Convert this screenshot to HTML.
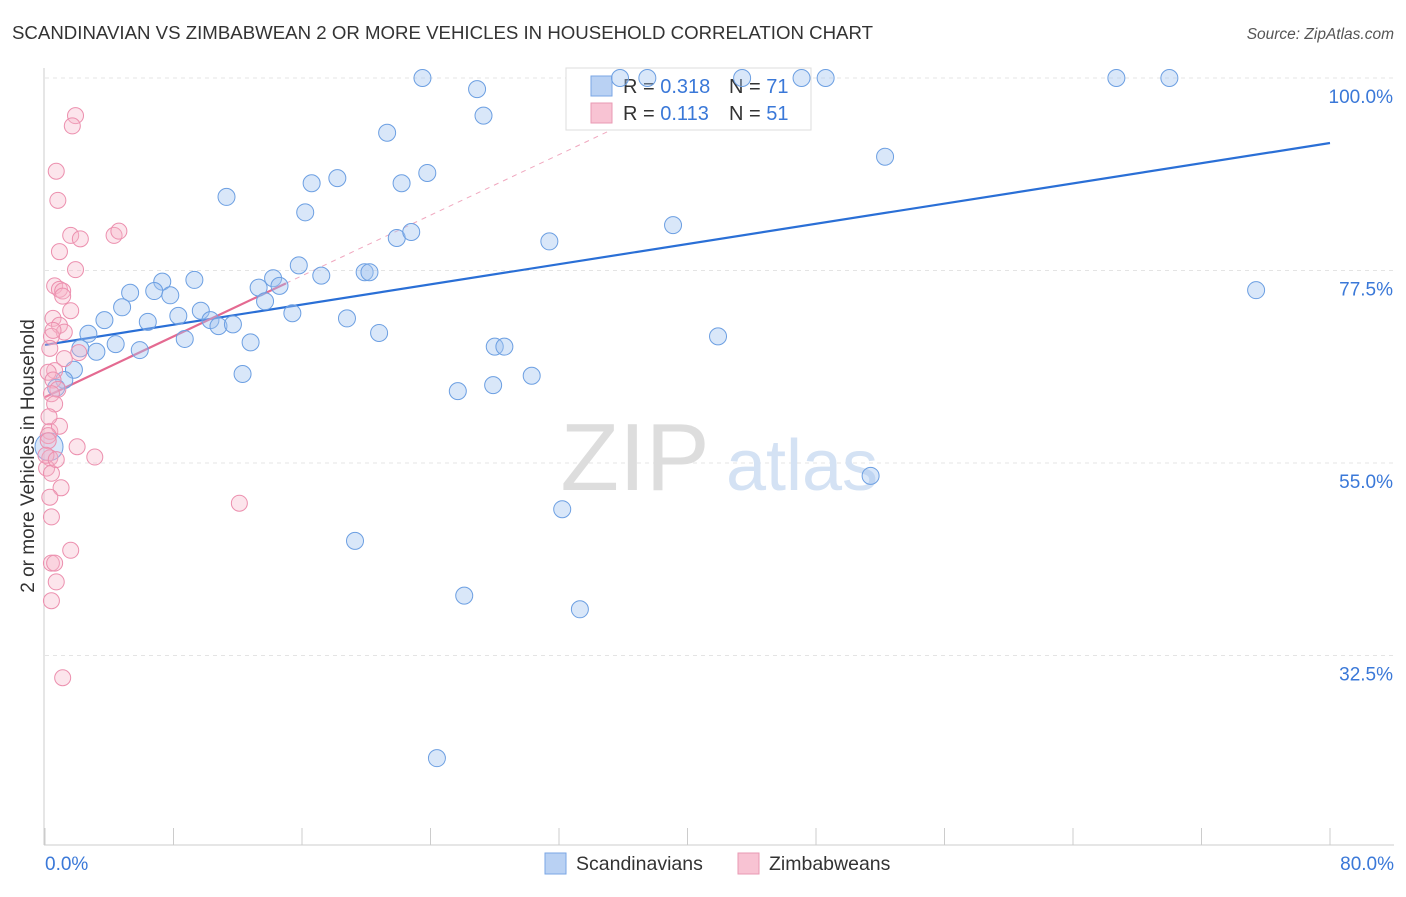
<!DOCTYPE html>
<html><head><meta charset="utf-8"><style>
body{margin:0;background:#fff;font-family:"Liberation Sans",sans-serif;}
svg text{font-family:"Liberation Sans",sans-serif;}
</style></head><body>
<svg id="chart" width="1406" height="892" viewBox="0 0 1406 892" xmlns="http://www.w3.org/2000/svg">
<text x="12" y="39" font-size="18.5" fill="#333" textLength="861" lengthAdjust="spacingAndGlyphs">SCANDINAVIAN VS ZIMBABWEAN 2 OR MORE VEHICLES IN HOUSEHOLD CORRELATION CHART</text>
<text x="1394" y="39" font-size="15.5" fill="#555" font-style="italic" text-anchor="end">Source: ZipAtlas.com</text>
<g id="grid"></g>
<g>
<text x="635" y="490" font-size="96" fill="#ddd" font-family="Liberation Serif" text-anchor="middle">ZIP</text>
<text x="802" y="490" font-size="72" fill="#d4e2f4" text-anchor="middle">atlas</text>
</g>
<line x1="44" y1="68" x2="44" y2="845" stroke="#ccc"/>
<line x1="44" y1="845" x2="1394" y2="845" stroke="#ccc"/>
<g id="ticks"></g>
<text transform="translate(34,456) rotate(-90)" font-size="19" fill="#333" text-anchor="middle">2 or more Vehicles in Household</text>
<text x="45" y="870" font-size="19" fill="#3a78d8">0.0%</text>
<text x="1394" y="870" font-size="19" fill="#3a78d8" text-anchor="end">80.0%</text>
<g>
<rect x="566" y="68" width="245" height="62" fill="#fff" stroke="#ddd"/>
<rect x="591" y="76" width="21" height="20" fill="#b9d1f3" stroke="#7aa6e4"/>
<rect x="591" y="103" width="21" height="20" fill="#f8c3d3" stroke="#e99ab3"/>
<text x="623" y="93" font-size="20" fill="#333">R = <tspan fill="#3a78d8">0.318</tspan></text>
<text x="729" y="93" font-size="20" fill="#333">N = <tspan fill="#3a78d8">71</tspan></text>
<text x="623" y="120" font-size="20" fill="#333">R = <tspan fill="#3a78d8"> 0.113</tspan></text>
<text x="729" y="120" font-size="20" fill="#333">N = <tspan fill="#3a78d8">51</tspan></text>
</g>
<g id="lines"></g>
<g id="points"></g>
<g>
<rect x="545" y="853" width="21" height="21" fill="#b9d1f3" stroke="#7aa6e4"/>
<text x="576" y="870" font-size="19.5" fill="#333">Scandinavians</text>
</g>
<g>
<rect x="738" y="853" width="21" height="21" fill="#f8c3d3" stroke="#e99ab3"/>
<text x="769" y="870" font-size="19.5" fill="#333">Zimbabweans</text>
</g>
</svg>
<script>
const yTicks=[32.5,55.0,77.5,100.0];
const yTickLabels=["32.5%","55.0%","77.5%","100.0%"];
const xTickVals=[0,8,16,24,32,40,48,56,64,72,80];
const blueX=[23.5,26.9,27.3,21.3,35.8,37.5,43.4,47.1,48.6,66.7,70.0,52.3,11.3,16.6,18.2,22.2,23.8,16.2,21.9,22.8,31.4,39.1,15.8,17.2,19.9,20.2,14.2,14.6,13.3,13.7,15.4,18.8,20.8,9.3,7.3,6.8,7.8,5.3,4.8,9.7,8.3,10.3,10.8,11.7,6.4,3.7,2.7,8.7,12.8,4.4,3.2,5.9,2.2,41.9,75.4,28.0,28.6,30.3,12.3,1.8,1.2,0.7,25.7,27.9,0.25,51.4,32.2,19.3,26.1,33.3,24.4];
const blueY=[100,98.7,95.6,93.6,100,100,100,100,100,100,100,90.8,86.1,87.7,88.3,87.7,88.9,84.3,81.3,82.0,80.9,82.8,78.1,76.9,77.3,77.3,76.6,75.7,75.5,73.9,72.5,71.9,70.2,76.4,76.2,75.1,74.6,74.9,73.2,72.8,72.2,71.7,71.0,71.2,71.5,71.7,70.1,69.5,69.1,68.9,68.0,68.2,68.4,69.8,75.2,68.6,68.6,65.2,65.4,65.9,64.7,63.8,63.4,64.1,56.9,53.5,49.6,45.9,39.5,37.9,20.5];
const pinkX=[1.9,1.7,0.7,0.8,1.6,2.2,4.3,4.6,0.9,1.9,0.6,0.9,1.1,0.5,1.6,0.9,1.2,0.4,2.1,1.2,0.6,0.2,0.5,0.8,0.4,0.6,0.3,0.9,0.2,2.0,3.1,0.3,0.1,0.4,1.0,0.3,12.1,0.4,1.6,0.4,0.6,0.7,0.4,1.1,0.2,0.25,0.5,0.3,0.06,0.7,1.1];
const pinkY=[95.6,94.4,89.1,85.7,81.6,81.2,81.6,82.1,79.7,77.6,75.7,75.3,75.1,71.9,72.8,71.1,70.3,69.8,67.9,67.2,65.8,65.6,64.7,63.6,63.1,61.9,58.7,59.3,58.2,56.9,55.7,55.6,54.4,53.8,52.1,51.0,50.3,48.7,44.8,43.3,43.3,41.1,38.9,29.9,57.6,60.4,70.5,68.4,55.9,55.4,74.5];
const blueTrend=[[0,68.8],[80,92.4]];
const pinkTrend=[[0,62.7],[15,76.0]];
const pinkDash=[[15,76.0],[35,93.7]];
const NS="http://www.w3.org/2000/svg";
const xs=v=>45+v*1285/80;
const ys=v=>463-(v-55)*192.5/22.5;
function mk(tag,attrs,parent){const e=document.createElementNS(NS,tag);for(const k in attrs)e.setAttribute(k,attrs[k]);parent.appendChild(e);return e;}
const grid=document.getElementById('grid'),ticks=document.getElementById('ticks'),lines=document.getElementById('lines'),pts=document.getElementById('points');
yTicks.forEach((t,i)=>{
 const l=mk('line',{x1:45,x2:1394,y1:ys(t),y2:ys(t),stroke:'#e4e4e4','stroke-dasharray':'4,4'},grid);
 
 
 const tx=mk('text',{x:1393,y:ys(t)+25,'font-size':19,fill:'#3a78d8','text-anchor':'end'},grid);
 tx.textContent=yTickLabels[i];
 
 
});
xTickVals.forEach(v=>{
 const l=mk('line',{x1:xs(v),x2:xs(v),y1:828,y2:845,stroke:'#ccc'},ticks);
 
 
});
function seg(p,color,dash,name){
 const l=mk('line',{x1:xs(p[0][0]),y1:ys(p[0][1]),x2:xs(p[1][0]),y2:ys(p[1][1]),stroke:color,'stroke-width':dash?1:2.2},lines);
 if(dash)l.setAttribute('stroke-dasharray','5,5');
 
 
}
seg(pinkDash,'#f0a8bf',true,'zimbabwean-trend-extension');
blueX.forEach((x,i)=>{
 const c=mk('circle',{cx:xs(x),cy:ys(blueY[i]),r:(i===64?14:8.5),fill:'rgba(160,195,240,0.4)',stroke:'#6c9fe2','stroke-width':1},pts);
 
 
});
pinkX.forEach((x,i)=>{
 const c=mk('circle',{cx:xs(x),cy:ys(pinkY[i]),r:8,fill:'rgba(247,180,200,0.35)',stroke:'#ec8fae','stroke-width':1},pts);
 
 
});
seg(blueTrend,'#2a6fd6',false,'scandinavian-trend-line');
seg(pinkTrend,'#e46a91',false,'zimbabwean-trend-line');
</script>
</body></html>
